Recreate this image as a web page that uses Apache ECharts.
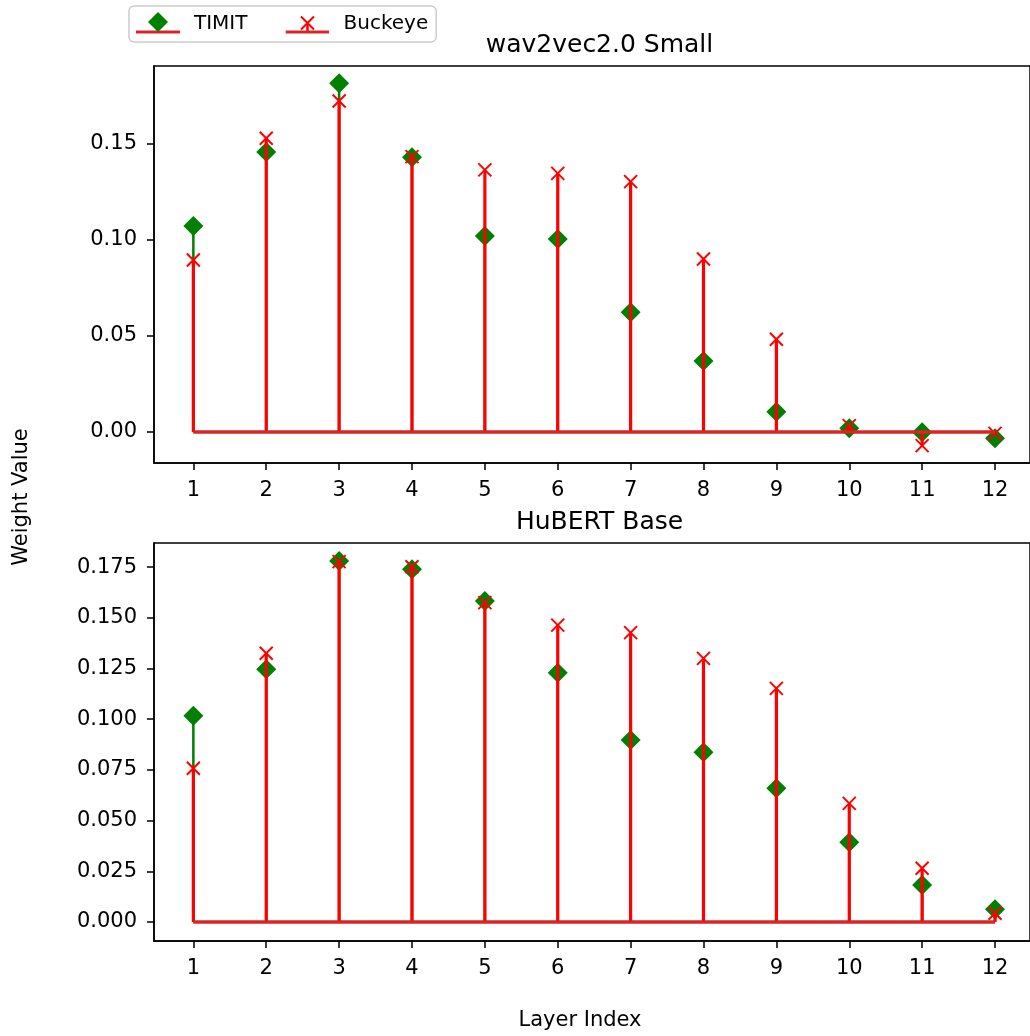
<!DOCTYPE html>
<html>
<head>
<meta charset="utf-8">
<script src="https://cdn.jsdelivr.net/npm/echarts@6/dist/echarts.min.js"></script>
<style>
html,body{margin:0;padding:0;background:#fff;}
#chart{width:1030px;height:1036px;}
</style>
</head>
<body>
<div id="chart"></div>
<script>
// ---- data ----
const layers = [1, 2, 3, 4, 5, 6, 7, 8, 9, 10, 11, 12];
const w2vTimit   = [0.1073, 0.1458, 0.1816, 0.1431, 0.1021, 0.1005, 0.0623, 0.0370, 0.0106, 0.0019, -0.0002, -0.0033];
const w2vBuckeye = [0.0896, 0.1530, 0.1724, 0.1434, 0.1365, 0.1347, 0.1304, 0.0901, 0.0483, 0.0033, -0.0071, -0.0007];
const hubTimit   = [0.1017, 0.1246, 0.1780, 0.1739, 0.1583, 0.1229, 0.0897, 0.0837, 0.0659, 0.0393, 0.0182, 0.0063];
const hubBuckeye = [0.0758, 0.1325, 0.1777, 0.1752, 0.1575, 0.1464, 0.1427, 0.1300, 0.1152, 0.0585, 0.0265, 0.0043];
const w2vTicks = [0.00, 0.05, 0.10, 0.15];
const hubTicks = [0.000, 0.025, 0.050, 0.075, 0.100, 0.125, 0.150, 0.175];
const titles = ['wav2vec2.0 Small', 'HuBERT Base'];
const seriesNames = ['TIMIT', 'Buckeye'];

// ---- styles ----
const FONT = 'DejaVu Sans';
const GREEN = '#008000';
const RED = '#ff0000';
const BASE = '#d62728';

function pairs(xs, ys) { return xs.map((x, i) => [x, ys[i]]); }

function stemSeries(name, idx, vals, color, width, z) {
  return {
    type: 'custom', name: name, xAxisIndex: idx, yAxisIndex: idx, z: z,
    data: pairs(layers, vals),
    encode: { x: 0, y: 1 },
    renderItem: function (params, api) {
      const p0 = api.coord([api.value(0), 0]);
      const p1 = api.coord([api.value(0), api.value(1)]);
      return { type: 'line', shape: { x1: p0[0], y1: p0[1], x2: p1[0], y2: p1[1] },
               style: { stroke: color, lineWidth: width } };
    },
    silent: true
  };
}
function baseSeries(name, idx, z) {
  return {
    type: 'line', name: name, xAxisIndex: idx, yAxisIndex: idx, z: z,
    data: [[layers[0], 0], [layers[layers.length - 1], 0]],
    showSymbol: false, symbol: 'none',
    lineStyle: { color: BASE, width: 3 }, silent: true, animation: false
  };
}
const XPATH = 'path://M0,0 L10,10 M10,0 L0,10';
function markerSeries(name, idx, vals, isX, z) {
  return isX ? {
    type: 'scatter', name: name, xAxisIndex: idx, yAxisIndex: idx, z: z,
    data: pairs(layers, vals), symbol: XPATH, symbolSize: 13,
    itemStyle: { color: 'rgba(0,0,0,0)', borderColor: RED, borderWidth: 2, opacity: 1 }
  } : {
    type: 'scatter', name: name, xAxisIndex: idx, yAxisIndex: idx, z: z,
    data: pairs(layers, vals), symbol: 'diamond', symbolSize: 20,
    itemStyle: { color: GREEN, opacity: 1 }
  };
}

function xAxis(idx) {
  return {
    type: 'value', gridIndex: idx, min: 0.46, max: 12.48,
    splitLine: { show: false },
    axisLine: { show: true, onZero: false, lineStyle: { color: '#000', width: 1.5 } },
    axisTick: { show: true, length: 7, lineStyle: { color: '#000', width: 1.5 }, customValues: layers },
    axisLabel: { customValues: layers, fontFamily: FONT, fontSize: 21, color: '#000', margin: 17,
                 formatter: v => String(v) }
  };
}
function yAxis(idx, min, max, ticks, dec) {
  return {
    type: 'value', gridIndex: idx, min: min, max: max,
    splitLine: { show: false },
    axisLine: { show: true, onZero: false, lineStyle: { color: '#000', width: 1.5 } },
    axisTick: { show: true, length: 7, lineStyle: { color: '#000', width: 1.5 }, customValues: ticks },
    axisLabel: { customValues: ticks, fontFamily: FONT, fontSize: 21, color: '#000', margin: 17,
                 formatter: v => v.toFixed(dec) }
  };
}

function svgIcon(isX) {
  let s = "<svg xmlns='http://www.w3.org/2000/svg' width='44' height='24' viewBox='0 0 44 24'>";
  if (isX) {
    s += "<line x1='22' y1='11' x2='22' y2='20' stroke='#ff0000' stroke-width='2.5'/>";
    s += "<line x1='0' y1='20' x2='44' y2='20' stroke='#d62728' stroke-width='3'/>";
    s += "<path d='M15.5 4.5 L28.5 17.5 M28.5 4.5 L15.5 17.5' stroke='#ff0000' stroke-width='2' fill='none'/>";
  } else {
    s += "<line x1='0' y1='20' x2='44' y2='20' stroke='#d62728' stroke-width='3'/>";
    s += "<path d='M22 0 L32 10 L22 20 L12 10 Z' fill='#008000'/>";
  }
  s += "</svg>";
  return 'image://data:image/svg+xml;charset=utf-8,' + encodeURIComponent(s);
}

const chart = echarts.init(document.getElementById('chart'), null, { renderer: 'canvas' });
const option = {
  backgroundColor: '#fff',
  animation: false,
  title: [
    { text: titles[0], left: 594.5, top: 28, textAlign: 'center',
      textStyle: { fontFamily: FONT, fontSize: 25, fontWeight: 'normal', color: '#000' } },
    { text: titles[1], left: 594.5, top: 505, textAlign: 'center',
      textStyle: { fontFamily: FONT, fontSize: 25, fontWeight: 'normal', color: '#000' } }
  ],
  legend: {
    left: 129, top: 6, orient: 'horizontal',
    padding: [6, 8, 6, 7], itemGap: 38, itemWidth: 44, itemHeight: 24,
    borderColor: '#cccccc', borderWidth: 1.5, borderRadius: 5, backgroundColor: '#fff',
    selectedMode: false,
    textStyle: { fontFamily: FONT, fontSize: 20, color: '#000', padding: [0, 0, 0, 9] },
    data: [
      { name: seriesNames[0], icon: svgIcon(false) },
      { name: seriesNames[1], icon: svgIcon(true) }
    ]
  },
  grid: [
    { left: 154, top: 66, right: 0, height: 397, show: true, borderColor: '#000', borderWidth: 1.5, backgroundColor: 'transparent' },
    { left: 154, top: 543, right: 0, height: 398, show: true, borderColor: '#000', borderWidth: 1.5, backgroundColor: 'transparent' }
  ],
  xAxis: [xAxis(0), xAxis(1)],
  yAxis: [
    yAxis(0, -0.01615, 0.1906, w2vTicks, 2),
    yAxis(1, -0.0094, 0.1869, hubTicks, 3)
  ],
  series: [
    stemSeries(seriesNames[0], 0, w2vTimit, GREEN, 2.5, 2),
    markerSeries(seriesNames[0], 0, w2vTimit, false, 3),
    baseSeries(seriesNames[0], 0, 4),
    stemSeries(seriesNames[1], 0, w2vBuckeye, RED, 3.2, 5),
    markerSeries(seriesNames[1], 0, w2vBuckeye, true, 6),
    baseSeries(seriesNames[1], 0, 7),
    stemSeries(seriesNames[0], 1, hubTimit, GREEN, 2.5, 2),
    markerSeries(seriesNames[0], 1, hubTimit, false, 3),
    baseSeries(seriesNames[0], 1, 4),
    stemSeries(seriesNames[1], 1, hubBuckeye, RED, 3.2, 5),
    markerSeries(seriesNames[1], 1, hubBuckeye, true, 6),
    baseSeries(seriesNames[1], 1, 7)
  ],
  graphic: [
    { type: 'text', x: 22, y: 497, rotation: Math.PI / 2,
      style: { text: 'Weight Value', fontFamily: FONT, fontSize: 21, fill: '#000', textAlign: 'center', textVerticalAlign: 'middle' } },
    { type: 'text', x: 580, y: 1021,
      style: { text: 'Layer Index', fontFamily: FONT, fontSize: 21, fill: '#000', textAlign: 'center', textVerticalAlign: 'middle' } }
  ]
};
chart.setOption(option);
</script>
</body>
</html>
